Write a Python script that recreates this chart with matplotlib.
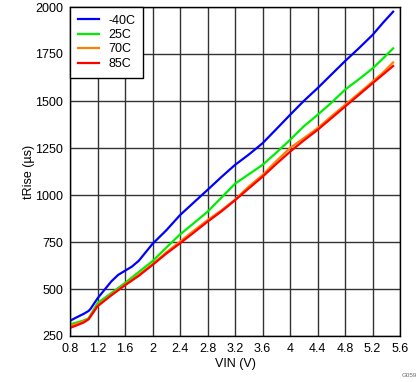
import matplotlib
matplotlib.use("Agg")
import matplotlib.pyplot as plt

plt.rcParams['font.family'] = ['Liberation Sans', 'DejaVu Sans']

vin_blue = [0.8, 0.9, 1.0, 1.07, 1.1, 1.2, 1.3, 1.4, 1.5, 1.6, 1.7, 1.8, 1.9, 2.0, 2.2, 2.4, 2.6, 2.8,
            3.0, 3.2, 3.4, 3.6, 3.8, 4.0, 4.2, 4.4, 4.6, 4.8, 5.0, 5.2, 5.35, 5.5]
t_m40 = [331, 350, 368, 383, 395, 450, 495, 540, 575, 597, 619, 650, 695, 740, 812, 893, 960, 1027,
         1095, 1160, 1215, 1275, 1350, 1426, 1500, 1568, 1640, 1712, 1780, 1851, 1915, 1975]

vin = [0.8, 0.9, 1.0, 1.07, 1.2, 1.4, 1.6, 1.8, 2.0, 2.2, 2.4, 2.6, 2.8, 3.0, 3.2, 3.4, 3.6, 3.8,
       4.0, 4.2, 4.4, 4.6, 4.8, 5.0, 5.2, 5.35, 5.5]
t_25 = [312, 322, 333, 344, 425, 478, 532, 590, 648, 720, 790, 850, 911, 985, 1060, 1110, 1160, 1225,
        1293, 1365, 1426, 1490, 1560, 1615, 1673, 1725, 1780]
t_70 = [303, 315, 328, 340, 412, 470, 523, 575, 632, 695, 752, 810, 866, 918, 975, 1045, 1106, 1180,
        1250, 1302, 1355, 1418, 1479, 1540, 1603, 1650, 1705]
t_85 = [293, 307, 322, 339, 408, 466, 520, 570, 628, 688, 743, 800, 858, 912, 972, 1035, 1097, 1165,
        1230, 1290, 1346, 1408, 1470, 1532, 1594, 1640, 1686]

labels = ['-40C', '25C', '70C', '85C']
colors = ['#0000FF', '#00EE00', '#FF8000', '#FF0000']

xticks = [0.8, 1.2, 1.6, 2, 2.4, 2.8, 3.2, 3.6, 4, 4.4, 4.8, 5.2, 5.6]
xticklabels = ['0.8', '1.2', '1.6', '2', '2.4', '2.8', '3.2', '3.6', '4', '4.4', '4.8', '5.2', '5.6']
yticks = [250, 500, 750, 1000, 1250, 1500, 1750, 2000]

fig = plt.figure(figsize=(4.19, 3.82), dpi=100)
ax = fig.add_axes([70/419, 1-336/382, 330/419, 329/382])

ax.plot(vin_blue, t_m40, color=colors[0], lw=1.6, label=labels[0])
ax.plot(vin, t_25, color=colors[1], lw=1.6, label=labels[1])
ax.plot(vin, t_70, color=colors[2], lw=1.6, label=labels[2])
ax.plot(vin, t_85, color=colors[3], lw=1.6, label=labels[3])

ax.set_xlim(0.8, 5.6)
ax.set_ylim(250, 2000)
ax.set_xticks(xticks)
ax.set_xticklabels(xticklabels)
ax.set_yticks(yticks)
ax.tick_params(length=0, labelsize=9, pad=5)
ax.grid(True, color='#333333', lw=1)
ax.set_axisbelow(True)
for s in ax.spines.values():
    s.set_color('black')
    s.set_linewidth(1)

ax.set_xlabel('VIN (V)', fontsize=9, labelpad=2)
ax.set_ylabel('tRise (µs)', fontsize=9, labelpad=0)

leg = ax.legend(loc='upper left', fontsize=9, frameon=True, fancybox=False, borderaxespad=0,
                handlelength=1.7, handletextpad=0.8, labelspacing=0.2, borderpad=0.6)
leg.get_frame().set_edgecolor('black')
leg.get_frame().set_linewidth(1)
leg.get_frame().set_alpha(1)

fig.text(0.995, 0.01, 'G059', fontsize=4.5, color='#666666', ha='right', va='bottom')

fig.savefig('out.png', dpi=100)
